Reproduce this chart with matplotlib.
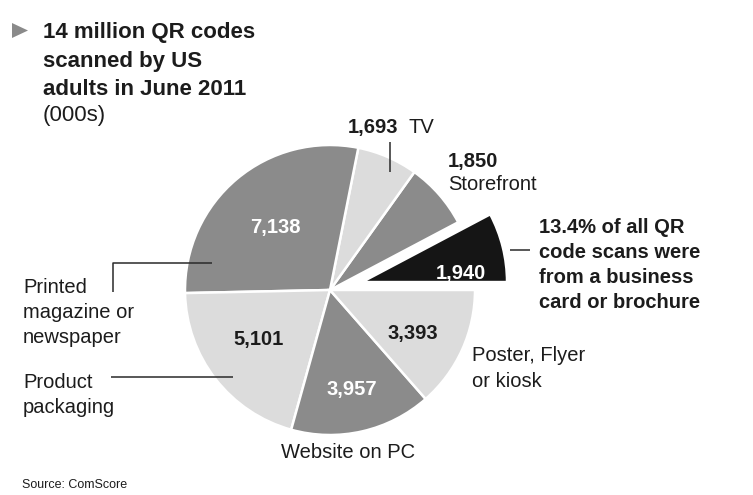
import matplotlib
matplotlib.use("Agg")
import matplotlib.pyplot as plt
from matplotlib.patches import Polygon

# QR code scans by source, June 2011 (thousands)
categories = ["Business card or brochure", "Storefront", "TV",
              "Printed magazine or newspaper", "Product packaging",
              "Website on PC", "Poster, Flyer or kiosk"]
scans = [1940, 1850, 1693, 7138, 5101, 3957, 3393]
business_share = "13.4%"

title_lines = ["14 million QR codes", "scanned by US", "adults in June 2011"]
unit_text = "(000s)"
source_text = "Source: ComScore"

W, H = 753, 495
fig = plt.figure(figsize=(W / 100, H / 100), dpi=100)
ax = fig.add_axes([0, 0, 1, 1])

FONT = "Liberation Sans"
INK = "#1c1c1c"
DARK, LIGHT, BLACK = "#8b8b8b", "#dcdcdc", "#151515"


def py(y):
    """Convert a top-down pixel row into the axis' bottom-up coordinate."""
    return H - y


def txt(x, y, s, size=14.5, weight="normal", color=INK, ha="left", va="baseline", family=FONT):
    ax.text(x, py(y), s, fontsize=size, fontweight=weight, color=color,
            ha=ha, va=va, family=family)


def block(x, y0, lines, dy, **kw):
    for i, line in enumerate(lines):
        txt(x, y0 + i * dy, line, **kw)


def leader(points):
    xs = [p[0] for p in points]
    ys = [py(p[1]) for p in points]
    ax.plot(xs, ys, color="#2a2a2a", lw=1.1, solid_capstyle="butt")


# pie: the business card / brochure slice is pulled out to the right
colors = [BLACK, DARK, LIGHT, DARK, LIGHT, DARK, LIGHT]
explode = [33, 0, 0, 0, 0, 0, 0]
wedges, _ = ax.pie(scans, colors=colors, explode=explode, startangle=0,
                   counterclock=True, center=(330, py(290)), radius=145,
                   wedgeprops=dict(edgecolor="white", linewidth=1.8))

ax.set_xlim(0, W)
ax.set_ylim(0, H)
ax.set_aspect("equal")
ax.axis("off")

fmt = "{:,}".format
val = dict(zip(categories, scans))

# values inside the slices
txt(461, 273, fmt(val["Business card or brochure"]), weight="bold", color="white", ha="center", va="center")
txt(275, 228, fmt(val["Printed magazine or newspaper"]), weight="bold", color="white", ha="center", va="center")
txt(259, 340, fmt(val["Product packaging"]), weight="bold", ha="center", va="center")
txt(352, 389, fmt(val["Website on PC"]), weight="bold", color="white", ha="center", va="center")
txt(413, 334, fmt(val["Poster, Flyer or kiosk"]), weight="bold", ha="center", va="center")

# TV and storefront values sit outside the pie
txt(348, 133, fmt(val["TV"]), weight="bold")
txt(409, 133, "TV")
leader([(390, 142), (390, 172)])
txt(448, 167, fmt(val["Storefront"]), weight="bold")
txt(448, 190, "Storefront")

# callout for the exploded slice
block(539, 233, [f"{business_share} of all QR", "code scans were",
                 "from a business", "card or brochure"], 25, weight="bold")
leader([(510, 250), (530, 250)])

# category labels
block(23, 293, ["Printed", "magazine or", "newspaper"], 25)
leader([(113, 292), (113, 263), (212, 263)])
block(23, 388, ["Product", "packaging"], 25)
leader([(111, 377), (233, 377)])
block(472, 361, ["Poster, Flyer", "or kiosk"], 26)
txt(348, 458, "Website on PC", ha="center")

# heading
ax.add_patch(Polygon([(px, py(pyy)) for px, pyy in [(12, 23), (12, 38), (28, 30.5)]],
                     closed=True, color="#8a8a8a", lw=0))
block(43, 38, title_lines, 28.5, size=16, weight="bold")
txt(43, 121, unit_text, size=16)

txt(22, 488, source_text, size=9)

fig.savefig("out.png", dpi=100, facecolor="white")
